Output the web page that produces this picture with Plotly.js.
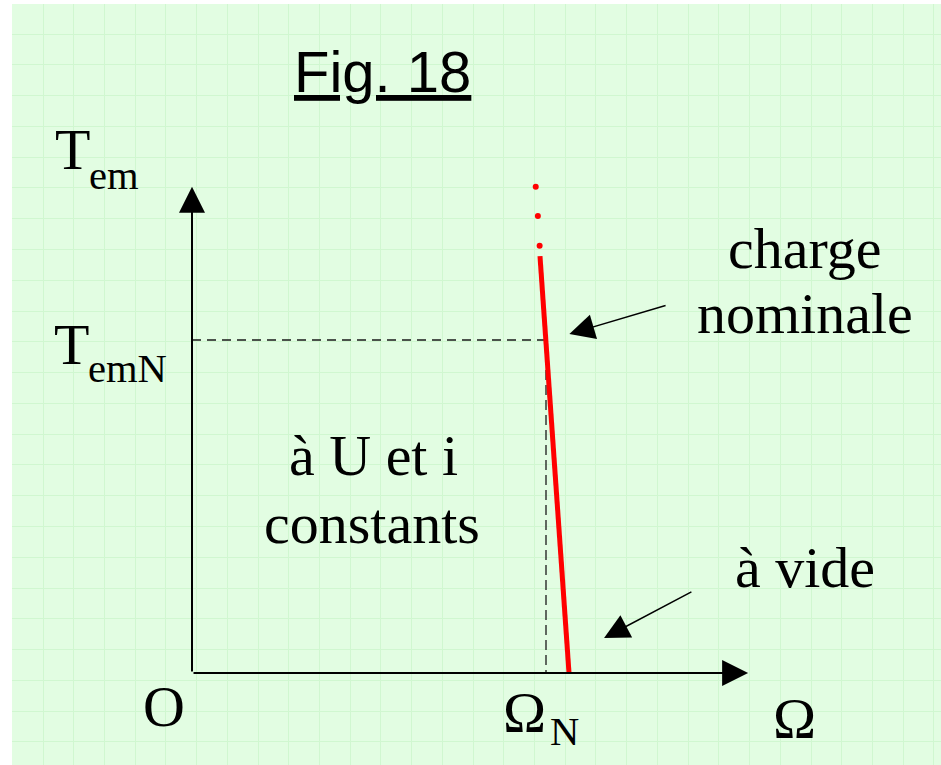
<!DOCTYPE html>
<html>
<head>
<meta charset="utf-8">
<script src="https://cdn.plot.ly/plotly-3.0.1.min.js"></script>
<style>
	html, body { margin: 0; padding: 0; background: #ffffff; }
	#fig { width: 941px; height: 765px; }
</style>
</head>
<body>
<div id="fig"></div>
<script>
// data units: Omega = 1 at Omega_N, Tem = 1 at TemN
var omegaRed = [0.983, 1.065];
var torqueRed = [1.252, 0];

var omegaDots = [0.971, 0.977, 0.982];
var torqueDots = [1.460, 1.372, 1.283];

var omegaNominal = [0, 1, 1];
var torqueNominal = [1, 1, 0];

var axisOmega = [0, 1.571];
var axisTorque = [0, 1.460];

// pointer arrows: [charge nominale, a vide]
var tipOmega = [1.066, 1.164];
var tipTorque = [1.018, 0.105];
var tailOmega = [1.342, 1.415];
var tailTorque = [1.105, 0.246];

const SERIF = '"Liberation Serif", "Times New Roman", serif';
const SANS = '"Liberation Sans", Arial, sans-serif';

// label placed by pixel position of its baseline
function label(text, px, baseline, size, anchor, family) {
	family = family || SERIF;
	var k = family === SANS ? 0.3465 : 0.3375;
	return {
		text: text,
		xref: 'paper', yref: 'paper',
		x: (px - 12) / 929,
		y: (765 - (baseline - k * size)) / 761,
		xanchor: anchor, yanchor: 'middle',
		showarrow: false,
		borderpad: 0,
		font: {family: family, size: size, color: '#000000'},
	};
}

function arrow(x, y, ax, ay, width, size) {
	return {
		text: '',
		x: x, y: y, ax: ax, ay: ay,
		xref: 'x', yref: 'y', axref: 'x', ayref: 'y',
		showarrow: true,
		arrowhead: 2,
		arrowwidth: width,
		arrowsize: size,
		arrowcolor: '#000000',
		standoff: 0,
	};
}

var traces = [
	{
		x: omegaNominal.slice(0, 2), y: torqueNominal.slice(0, 2),
		mode: 'lines', type: 'scatter',
		line: {color: '#1a1a1a', width: 1.3, dash: '9px,6px'},
		hoverinfo: 'skip',
	},
	{
		x: omegaNominal.slice(1), y: torqueNominal.slice(1),
		mode: 'lines', type: 'scatter',
		line: {color: '#1a1a1a', width: 1.3, dash: '10px,5px'},
		hoverinfo: 'skip',
	},
	{
		x: omegaRed, y: torqueRed,
		mode: 'lines', type: 'scatter',
		line: {color: '#ff0000', width: 5},
	},
	{
		x: omegaDots, y: torqueDots,
		mode: 'markers', type: 'scatter',
		marker: {color: '#ff0000', size: 6},
	},
];

var annotations = [
	arrow(axisOmega[0], axisTorque[1], axisOmega[0], axisTorque[0], 2, 2.6),
	arrow(axisOmega[1], axisTorque[0], axisOmega[0], axisTorque[0], 2, 2.6),
];
for (let i = 0; i < tipOmega.length; i++) {
	annotations.push(arrow(tipOmega[i], tipTorque[i], tailOmega[i], tailTorque[i], 1.5, 3.35));
}

annotations.push(
	label('<u>Fig. 18</u>', 382, 92, 58, 'center', SANS),
	label('T', 54, 169, 58, 'left'),
	label('em', 88, 189, 40.6, 'left'),
	label('T', 53, 364, 58, 'left'),
	label('emN', 87, 382, 40.6, 'left'),
	label('O', 142, 726, 58, 'left'),
	label('Ω', 502, 732, 58, 'left'),
	label('N', 549, 745, 40.6, 'left'),
	label('Ω', 772, 738, 58, 'left'),
	label('à U et i', 373, 475, 58, 'center'),
	label('constants', 372, 543, 58, 'center'),
	label('charge', 805, 268, 58, 'center'),
	label('nominale', 805, 333, 58, 'center'),
	label('à vide', 805, 587, 58, 'center')
);

var layout = {
	width: 941,
	height: 765,
	margin: {l: 12, r: 0, t: 4, b: 0, pad: 0},
	paper_bgcolor: '#ffffff',
	plot_bgcolor: '#e2fde2',
	showlegend: false,
	xaxis: {
		range: [-0.50847, 2.11582],
		showgrid: true,
		gridcolor: '#d0f7d0',
		gridwidth: 1,
		tick0: -0.420904,
		dtick: 0.0867797,
		zeroline: false,
		showline: false,
		ticks: '',
		showticklabels: false,
		fixedrange: true,
	},
	yaxis: {
		range: [-0.27628, 2.00901],
		showgrid: true,
		gridcolor: '#d0f7d0',
		gridwidth: 1,
		tick0: 1.918919,
		dtick: 0.0924324,
		zeroline: false,
		showline: false,
		ticks: '',
		showticklabels: false,
		fixedrange: true,
	},
	annotations: annotations,
};

Plotly.newPlot('fig', traces, layout, {displayModeBar: false, staticPlot: true});
</script>
</body>
</html>
